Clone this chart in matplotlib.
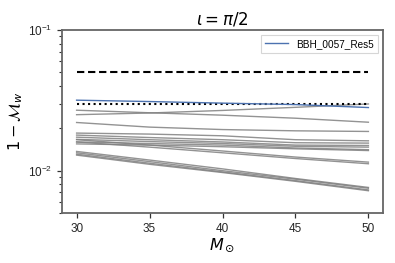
import matplotlib
matplotlib.use("Agg")
import matplotlib.pyplot as plt
import numpy as np

plt.rcParams['font.family'] = ['Liberation Sans', 'DejaVu Sans']

masses = [30, 35, 40, 45, 50]

grey_series = [
    [0.0269, 0.0258, 0.0248, 0.0236, 0.0221],
    [0.0250, 0.0257, 0.0268, 0.0282, 0.0298],
    [0.0220, 0.0204, 0.0196, 0.0192, 0.0190],
    [0.0185, 0.0182, 0.0177, 0.0166, 0.0163],
    [0.0179, 0.0172, 0.0166, 0.0158, 0.0157],
    [0.0173, 0.0166, 0.0160, 0.0152, 0.0151],
    [0.0167, 0.0161, 0.0156, 0.0149, 0.0147],
    [0.0160, 0.0156, 0.0152, 0.0145, 0.0141],
    [0.0155, 0.0152, 0.0148, 0.0143, 0.0139],
    [0.0166, 0.0152, 0.0138, 0.0125, 0.0115],
    [0.0160, 0.0147, 0.0134, 0.0122, 0.0112],
    [0.0137, 0.0119, 0.0103, 0.0088, 0.0076],
    [0.0134, 0.0116, 0.0100, 0.0087, 0.0075],
    [0.0131, 0.0113, 0.0098, 0.0085, 0.0073],
    [0.0129, 0.0111, 0.0097, 0.0084, 0.0072],
]

blue_label = "BBH_0057_Res5"
blue_series = [0.0317, 0.0310, 0.0302, 0.0295, 0.0281]

dashed_level = [0.05, 0.05]
dotted_level = [0.03, 0.03]
level_x = [30, 50]

fig = plt.figure(figsize=(3.95, 2.63), dpi=100)
ax = fig.add_axes([0.157, 0.19, 0.8126, 0.696])

for s in grey_series:
    ax.plot(masses, s, color='grey', lw=1.0, alpha=0.85)
ax.plot(level_x, dashed_level, color='black', ls='--', lw=1.5, dashes=(3.5, 1.8))
ax.plot(level_x, dotted_level, color='black', ls=':', lw=1.5)
ax.plot(masses, blue_series, color='#4c72b0', lw=1.0, label=blue_label)

ax.set_yscale('log')
ax.set_ylim(0.005, 0.1)
ax.set_xlim(29, 51)
ax.set_xticks([30, 35, 40, 45, 50])

for sp in ax.spines.values():
    sp.set_color('0.4')
    sp.set_linewidth(1.3)
ax.tick_params(axis='both', which='major', labelsize=8.5, color='0.2', length=3.5, width=0.9, labelcolor='0.15')
ax.tick_params(axis='y', which='minor', color='0.2', length=2.0, width=0.8)

ax.set_title(r'$\iota=\pi/2$', fontsize=12, pad=4)
ax.set_xlabel(r'$M_\odot$', fontsize=11.5, labelpad=1)
ax.set_ylabel(r'$1-\mathcal{M}_w$', fontsize=11.5, labelpad=2)

leg = ax.legend(loc='upper right', fontsize=7.2, frameon=True, fancybox=False, handlelength=2.3)
leg.get_frame().set_edgecolor('0.8')
leg.get_frame().set_linewidth(0.8)

fig.savefig('out.png', dpi=100)
